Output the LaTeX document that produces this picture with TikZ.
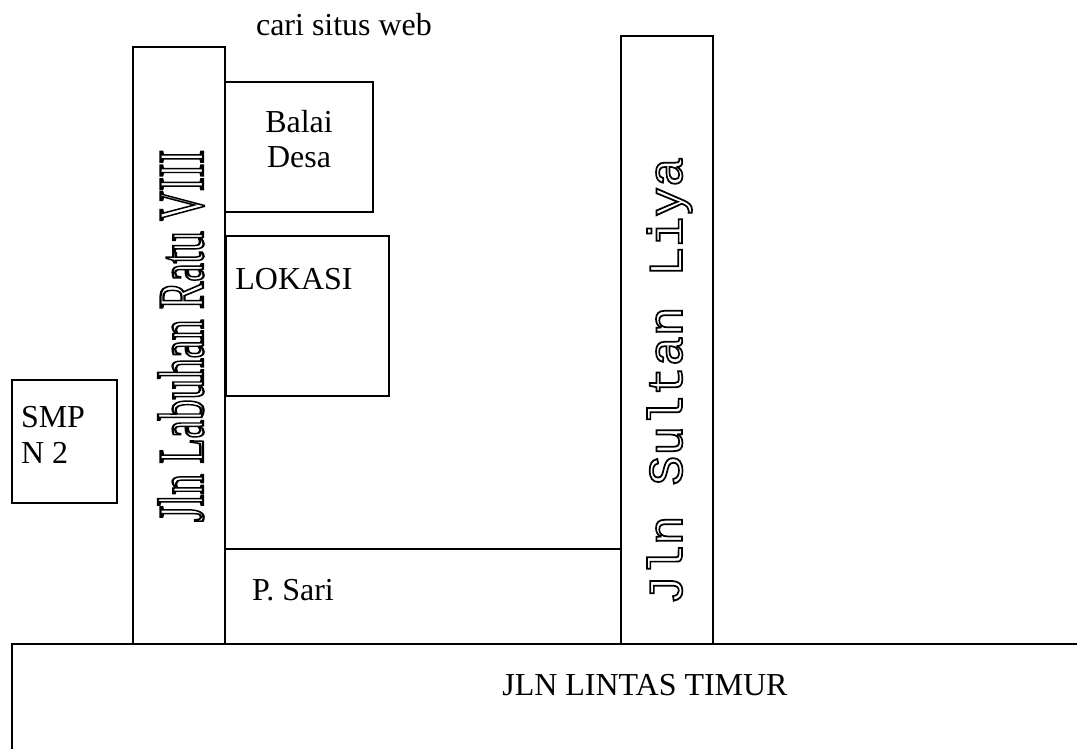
\documentclass[tikz,border=0pt]{standalone}
\usepackage{graphicx}
\usepackage{fontspec}
\setmainfont{Liberation Serif}
\newfontfamily\monofont{Liberation Mono}
\newcommand{\outlined}[1]{\special{pdf:code 1 Tr 0.35 w}#1\special{pdf:code 0 Tr 1 w}}
\tikzset{
    jalan/.style={
      draw, %black outline
      rectangle,
      line width=1pt,
      inner sep=0pt,
      outer sep=0pt,
    },
    teks/.style={
      inner sep=0pt,
      font=\fontsize{18.2pt}{20.7pt}\selectfont,
    },
    garis/.style={
      line width=1pt,
    }
  }

\begin{document}
\begin{tikzpicture}[x=0.02cm, y=-0.02cm]
          \useasboundingbox (0,0) rectangle (1077,749);

          \node[jalan, minimum width=1.84cm, minimum height=11.94cm] (labuhan) at (179,345.5) {};
          \node[jalan, minimum width=1.84cm, minimum height=12.16cm] (sultan) at (667,340) {};
          \node[jalan, minimum width=2.96cm, minimum height=2.6cm] (balai) at (299,147) {};
          \node[jalan, minimum width=3.26cm, minimum height=3.2cm] (lokasi) at (307.5,316) {};
          \node[jalan, minimum width=2.1cm, minimum height=2.46cm] (smp) at (64.5,441.5) {};

          \coordinate (sariL) at (225,549);
          \coordinate (sariR) at (621,549);
          \coordinate (timurA) at (12,749);
          \coordinate (timurB) at (12,644);
          \coordinate (timurC) at (1077,644);
          \draw[garis] (sariL) -- (sariR);
          \draw[garis] (timurA) -- (timurB) -- (timurC);

          \node[teks] (cari) at (344,25) {cari situs web};
          \node[teks, align=center] (balaiT) at (299,139) {Balai\\[-0.5pt]Desa};
          \node[teks] (lokasiT) at (294,279) {LOKASI};
          \node[teks, align=left] (smpT) at (53,435) {SMP\\[-0.5pt]N 2};
          \node[teks] (sariT) at (293,590) {P. Sari};
          \node[teks] (timurT) at (645,685) {JLN LINTAS TIMUR};

          \node[inner sep=0pt, rotate=90] (labuhanT) at (181,336) {\resizebox*{7.44cm}{0.92cm}{\outlined{Jln Labuhan Ratu VIII}}};
          \node[inner sep=0pt, rotate=90] (sultanT) at (669.5,381) {\resizebox*{8.96cm}{0.9cm}{\monofont\outlined{Jln Sultan Liya}}};
        \end{tikzpicture}
\end{document}
